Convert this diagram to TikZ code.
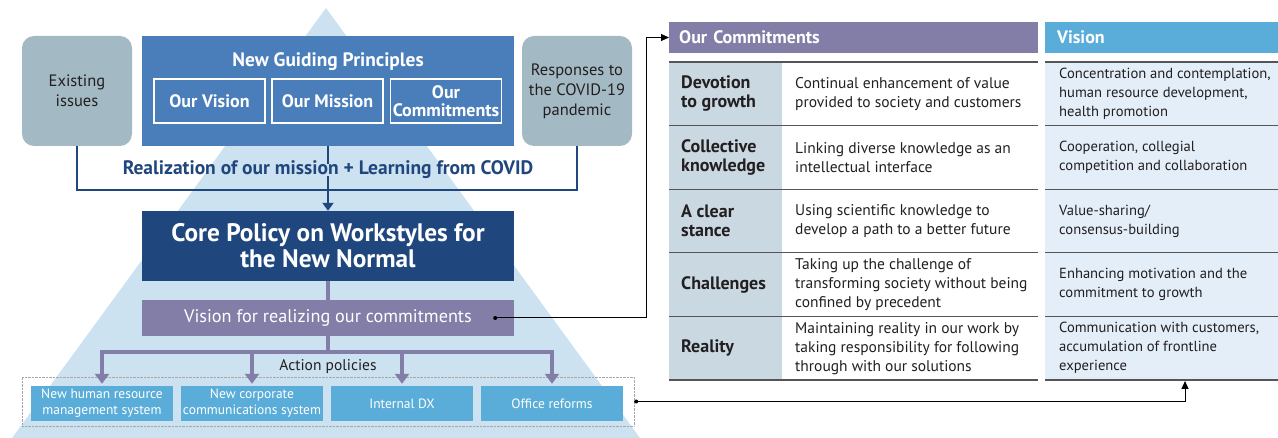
\documentclass[tikz,border=0pt]{standalone}
\usepackage{fontspec}
\setmainfont{PT Sans}
\usetikzlibrary{arrows.meta}
\definecolor{issue-gray}{HTML}{A3BAC4}
\definecolor{guide-blue}{HTML}{4A7EBB}
\definecolor{core-navy}{HTML}{1F477E}
\definecolor{vision-purple}{HTML}{837EA8}
\definecolor{action-blue}{HTML}{5BADD9}
\definecolor{pyramid-bg}{HTML}{CDE2F0}
\definecolor{label-bg}{HTML}{C9D8E1}
\definecolor{vision-bg}{HTML}{E3EEF8}
\definecolor{rule-gray}{HTML}{555555}
\definecolor{ink}{HTML}{231F20}
\newcommand{\fsz}[2]{\fontsize{#1}{#2}\selectfont}

\begin{document}
\begin{tikzpicture}[x=1pt, y=-1pt,
    every node/.style={font=\fsz{15.5}{19}, align=center, inner sep=0pt},
    sidebox/.style={fill=issue-gray, rounded corners=12pt, minimum width=110pt, minimum height=110pt, text=ink, font=\fsz{16.5}{20}},
    bigbox/.style={minimum width=372pt},
    innerbox/.style={draw=white, line width=1.2pt, minimum width=111pt, minimum height=44pt, text=white, font=\fsz{18}{18.5}\bfseries},
    actbox/.style={fill=action-blue, minimum width=142pt, minimum height=35pt, text=white, font=\fsz{13.5}{16}},
    headcell/.style={anchor=west, minimum height=31pt, text=white, font=\fsz{18}{20}\bfseries, align=left},
    cell/.style={anchor=west, align=left, text=ink, font=\fsz{15.5}{19}},
    navyline/.style={core-navy, line width=2pt},
    purpleline/.style={vision-purple, line width=4pt},
    link/.style={line width=1pt, -{Triangle[length=8pt, width=7pt]}}]
  \useasboundingbox (0,0) rectangle (1278,438);
  % pyramid
  \fill[pyramid-bg] (326,8) -- (640,438) -- (12,438) -- cycle;

  % upper block
  \node[sidebox] (issues) at (77,91) {Existing\\issues};
  \node[sidebox] (covid) at (577,91) {Responses to\\the COVID-19\\pandemic};
  \node[bigbox, fill=guide-blue, minimum height=110pt] (guide) at (328,91) {};
  \node[text=white, font=\fsz{19.4}{20}\bfseries] (guidetitle) at (328,62) {New Guiding Principles};
  \foreach \x/\name/\txt in {209.5/ourvision/Our Vision, 327.5/ourmission/Our Mission, 446/ourcommit/{Our\\Commitments}}
    \node[innerbox] (\name) at (\x,101) {\txt};

  \node[text=core-navy, font=\fsz{19.5}{20}\bfseries] (learn) at (328,170) {Realization of our mission + Learning from COVID};
  \node[bigbox, fill=core-navy, minimum height=70pt, text=white, font=\fsz{25.3}{26}\bfseries] (core) at (328,246) {Core Policy on Workstyles for\\the New Normal};
  \node[bigbox, fill=vision-purple, minimum height=36pt, text=white, font=\fsz{18.2}{20}] (vis) at (328,318) {Vision for realizing our commitments};

  \draw[navyline] (issues.south) -- ++(0,44) -| (covid.south);
  \draw[navyline] (guide.south) -- ([yshift=-3pt]learn.north);
  \draw[navyline, -{Triangle[length=8pt, width=11pt]}] ([yshift=3pt]learn.south) -- (core.north);
  \draw[purpleline] (core.south) -- (vis.north);

  % action policies
  \node[draw=gray!70, densely dotted, minimum width=612pt, minimum height=49pt] (actframe) at (328,401.5) {};
  \node[text=ink, font=\fsz{15.5}{17}] (actlabel) at (328,367) {Action policies};
  \foreach \x/\name/\txt in {102/hrsys/{New human resource\\management system}, 252/commsys/{New corporate\\communications system}, 402/dx/Internal DX, 552/office/Office reforms}
    \node[actbox] (\name) at (\x,403.5) {\txt};
  \coordinate (fork) at (328,352);
  \draw[purpleline] (vis.south) -- (fork);
  \draw[purpleline, line cap=rect] (hrsys.north |- fork) -- (office.north |- fork);
  \foreach \name in {hrsys, commsys, dx, office}
    \draw[purpleline, -{Triangle[length=10pt, width=14pt]}] (\name.north |- fork) -- ([yshift=2pt]\name.north);

  % table
  \node[headcell, fill=vision-purple, text width=349pt, inner xsep=10pt] (commhead) at (669,37.5) {Our Commitments};
  \node[headcell, fill=action-blue, text width=209pt, inner xsep=12pt] (vishead) at (1045,37.5) {Vision};
  \fill[label-bg] (669,62) rectangle (782,380);
  \fill[vision-bg] (1045,62) rectangle (1278,380);
  \foreach \y in {62,125.6,189.2,252.8,316.4,380} {
    \draw[rule-gray, line width=1.2pt] (669,\y) -- (1038,\y);
    \draw[rule-gray, line width=1.2pt] (1045,\y) -- (1278,\y);
  }
  \foreach \i/\lab/\desc/\vtxt in {
      1/{Devotion\\to growth}/{Continual enhancement of value\\provided to society and customers}/{Concentration and contemplation,\\human resource development,\\health promotion},
      2/{Collective\\knowledge}/{Linking diverse knowledge as an\\intellectual interface}/{Cooperation, collegial\\competition and collaboration},
      3/{A clear\\stance}/{Using scientific knowledge to\\develop a path to a better future}/{Value-sharing/\\consensus-building},
      4/{Challenges}/{Taking up the challenge of\\transforming society without being\\confined by precedent}/{Enhancing motivation and the\\commitment to growth},
      5/{Reality}/{Maintaining reality in our work by\\taking responsibility for following\\through with our solutions}/{Communication with customers,\\accumulation of frontline\\experience}} {
    \node[cell, font=\fsz{18}{19}\bfseries] (lab\i) at (681,{62+63.6*(\i-1)+31.8}) {\lab};
    \node[cell] (desc\i) at (795,{62+63.6*(\i-1)+31.8}) {\desc};
    \node[cell, font=\fsz{14.6}{19}] (vis\i) at (1059,{62+63.6*(\i-1)+31.8}) {\vtxt};
  }

  % connectors
  \coordinate (visdot) at ([xshift=-19pt]vis.east);
  \coordinate (actdot) at ([xshift=2pt]actframe.east);
  \coordinate (visbottom) at (1185,381);
  \fill (visdot) circle (2pt);
  \fill (actdot) circle (2pt);
  \draw[link] (visdot) -- ++(151,0) |- (commhead.west);
  \draw[link] (actdot) -| (visbottom);
\end{tikzpicture}
\end{document}
